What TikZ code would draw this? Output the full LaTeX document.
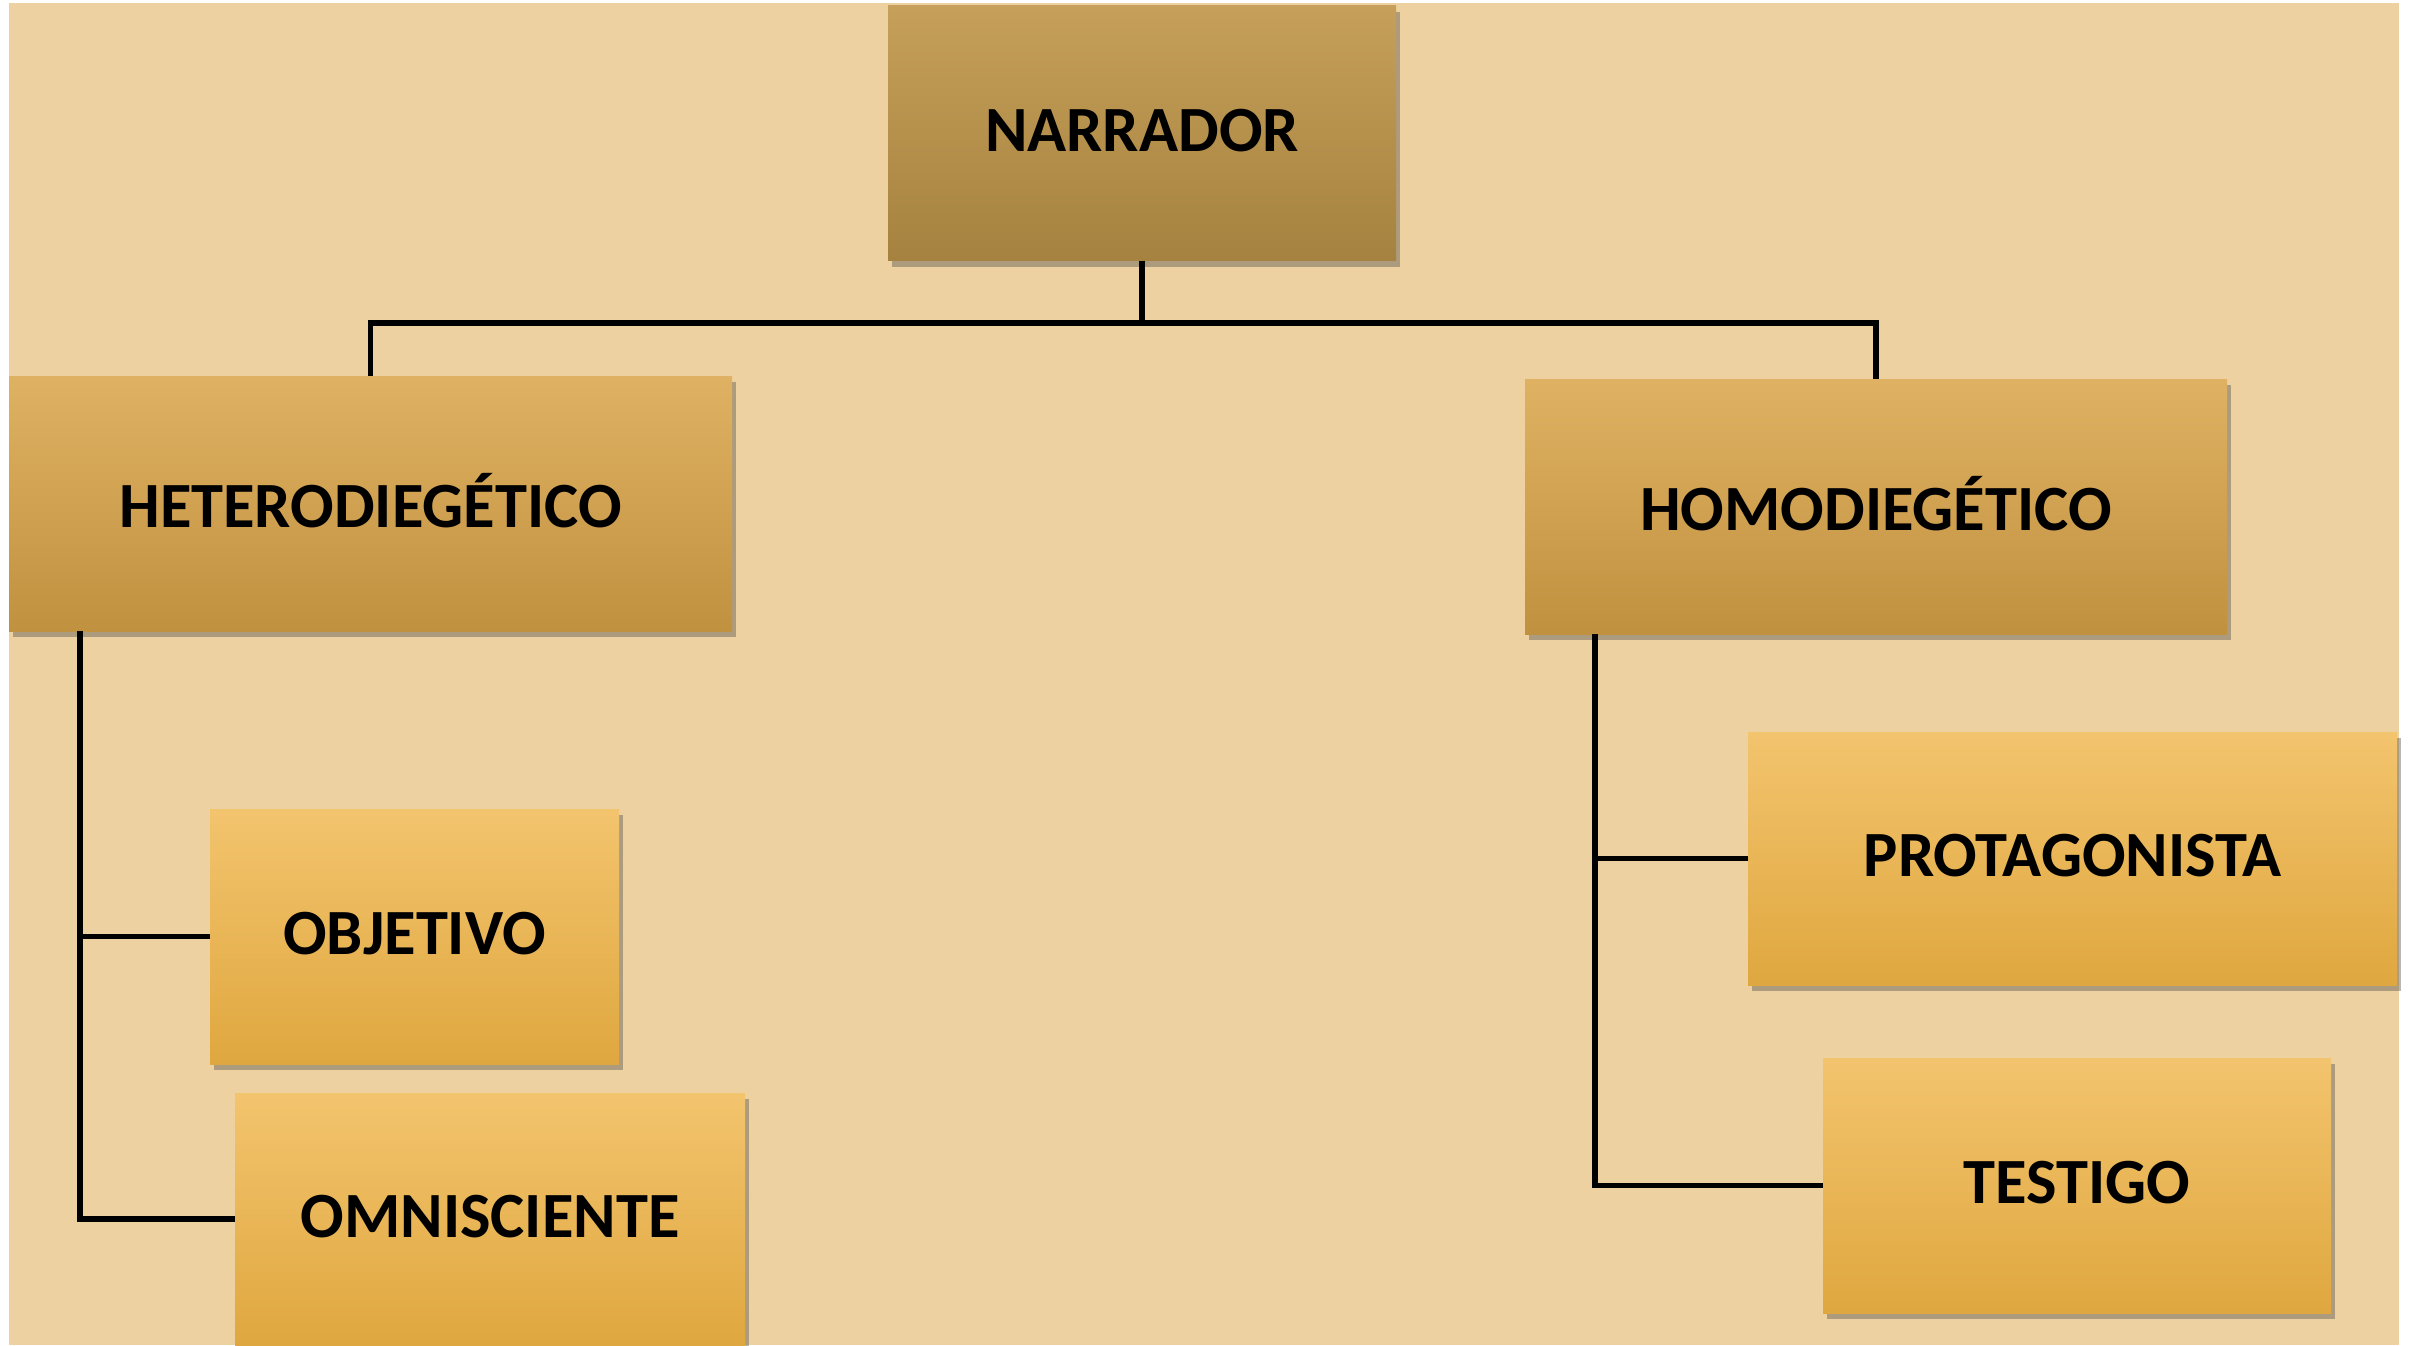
\documentclass[tikz,border=0pt]{standalone}
\usepackage{fontspec}
\setmainfont{Carlito}
\usetikzlibrary{shadows,calc}
\definecolor{bgc}{HTML}{EED1A0}
\definecolor{topA}{HTML}{C6A05A}
\definecolor{botA}{HTML}{A5823F}
\definecolor{topB}{HTML}{DFB263}
\definecolor{botB}{HTML}{C0913F}
\definecolor{topC}{HTML}{F3C46E}
\definecolor{botC}{HTML}{DFA73F}
\newcommand{\liftup}[1]{\raisebox{6pt}{#1}}
\tikzset{
  box/.style={rectangle, inner sep=0pt, outer sep=0pt, draw=none,
    font=\fontsize{64.5}{76}\selectfont\bfseries,
    drop shadow={shadow xshift=4pt, shadow yshift=-6pt, opacity=0.4, fill=black!70}},
  lvlA/.style={box, top color=topA, bottom color=botA},
  lvlB/.style={box, top color=topB, bottom color=botB},
  lvlC/.style={box, top color=topC, bottom color=botC},
  conn/.style={line width=5.5pt, black}
}
\begin{document}
\begin{tikzpicture}[x=1pt,y=-1pt]
\useasboundingbox (0,0) rectangle (2425,1345);
\fill[white] (0,0) rectangle (2425,1345);
\fill[bgc] (9,3) rectangle (2399,1345);
% nodes
\node[lvlA, minimum width=508pt, minimum height=255pt] (nar) at (1142,133) {\liftup{NARRADOR}};
\node[lvlB, minimum width=723pt, minimum height=255pt] (het) at (370.5,503.5) {\liftup{HETERODIEGÉTICO}};
\node[lvlB, minimum width=702pt, minimum height=255pt] (hom) at (1876,506.5) {\liftup{HOMODIEGÉTICO}};
\node[lvlC, minimum width=409pt, minimum height=255pt] (obj) at (414.5,936.5) {\liftup{OBJETIVO}};
\node[lvlC, minimum width=510pt, minimum height=252pt] (omn) at (490,1219) {\liftup{OMNISCIENTE}};
\node[lvlC, minimum width=649pt, minimum height=253pt] (pro) at (2072.5,858.5) {\liftup{PROTAGONISTA}};
\node[lvlC, minimum width=508pt, minimum height=255pt] (tes) at (2077,1185.5) {\liftup{TESTIGO}};
% connectors
\coordinate (j) at (1142,323);
\coordinate (hb) at ($(het.south west)+(71,0)$);
\coordinate (mb) at ($(hom.south west)+(70,0)$);
\draw[conn] (nar.south) -- (j);
\draw[conn] (het.north) |- (j) -| (hom.north);
\draw[conn] (hb) |- (obj.west);
\draw[conn] (hb) |- (omn.west);
\draw[conn] (mb) |- (pro.west);
\draw[conn] (mb) |- (tes.west);
\end{tikzpicture}
\end{document}
